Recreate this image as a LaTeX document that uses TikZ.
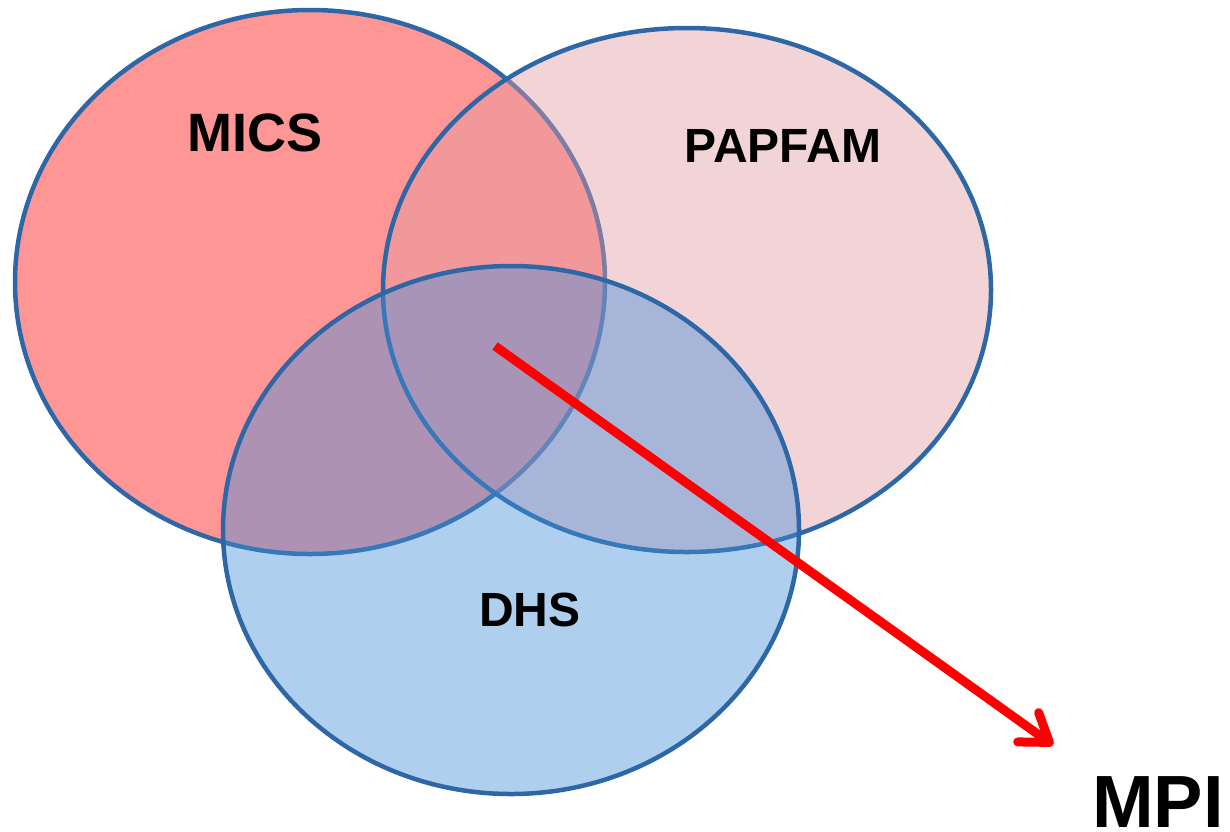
\documentclass[tikz,border=0pt]{standalone}
\usepackage{fontspec}
\setmainfont{Liberation Sans}
\usetikzlibrary{positioning,arrows.meta}
\definecolor{rimblue}{RGB}{46,103,165}
\definecolor{micsred}{RGB}{255,150,150}
\definecolor{papfampink}{RGB}{225,155,162}
\definecolor{dhsblue}{RGB}{69,143,218}
\definecolor{arrowred}{RGB}{255,0,0}
\tikzset{
	setrim/.style={line width=4.5pt,color=rimblue},
	setlabel/.style={font=\bfseries\fontsize{48}{54}\selectfont,inner sep=0pt}
}

\begin{document}
\begin{tikzpicture}[x=1pt,y=-1pt]
					\useasboundingbox (0,0) rectangle (1230,831);
					%Nodes
				\coordinate      (mics) 	at 	(310,282);
				\coordinate      (papfam) 	at 	(687,290);
				\coordinate      (dhs) 	at 	(511,530);
				\coordinate      (start) 	at 	(495,346);
				\coordinate      (tip) 	at 	(1053,745);

				%Sets
				\draw[setrim,fill=micsred] (mics) ellipse [x radius=295pt, y radius=272pt];
				\draw[setrim,fill=papfampink,fill opacity=0.43] (papfam) ellipse [x radius=304pt, y radius=262pt];
				\draw[setrim,fill=dhsblue,fill opacity=0.43] (dhs) ellipse [x radius=288pt, y radius=264pt];

				\node[setlabel,font=\bfseries\fontsize{54}{60}\selectfont] (micslabel) at (255,133) {MICS};
				\node[setlabel] (papfamlabel) at (783,146) {PAPFAM};
				\node[setlabel] (dhslabel) at (530,610) {DHS};
				\node[setlabel,font=\bfseries\fontsize{74}{80}\selectfont,anchor=base west] (mpilabel) at (1092,827) {MPI};

				%Lines
				\draw[line width=9pt,color=arrowred,-{Straight Barb[length=26pt,width=36pt,round]}] (start) -- (tip);

				\end{tikzpicture}
\end{document}
